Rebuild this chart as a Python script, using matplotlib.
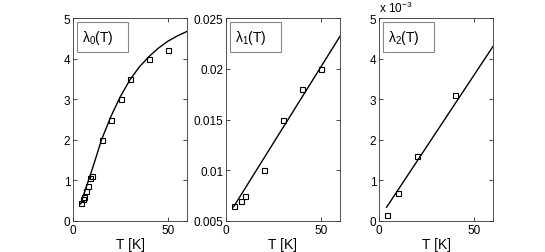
import matplotlib
matplotlib.use("Agg")
import matplotlib.pyplot as plt
from matplotlib.patches import Rectangle

plt.rcParams['font.family'] = ['Liberation Sans', 'DejaVu Sans']
plt.rcParams['mathtext.fontset'] = 'custom'
plt.rcParams['mathtext.rm'] = 'Liberation Sans'
plt.rcParams['mathtext.it'] = 'Liberation Sans'

# Panel 1: lambda_0(T)
T0 = [4, 5, 6, 7, 8, 9, 10, 15, 20, 25, 30, 40, 50]
L0 = [0.45, 0.55, 0.6, 0.75, 0.85, 1.05, 1.1, 2.0, 2.5, 3.0, 3.5, 4.0, 4.2]
T0_fit = [4, 6, 8, 10, 12, 15, 20, 25, 30, 35, 40, 45, 50, 55, 60]
L0_fit = [0.42, 0.7, 0.98, 1.26, 1.55, 2.0, 2.58, 3.07, 3.48, 3.8, 4.05, 4.26, 4.43, 4.56, 4.67]

# Panel 2: lambda_1(T)
T1 = [4, 8, 10, 20, 30, 40, 50]
L1 = [0.0065, 0.007, 0.0075, 0.010, 0.015, 0.018, 0.020]
T1_fit = [4, 60]
L1_fit = [0.0064, 0.0232]

# Panel 3: lambda_2(T) (x 1e-3)
T2 = [4, 10, 20, 40]
L2 = [0.15, 0.7, 1.6, 3.1]
T2_fit = [4, 60]
L2_fit = [0.34, 4.3]

fig = plt.figure(figsize=(5.45, 2.53), dpi=100)

lefts = [73/545, 226/545, 379/545]
w = 114/545
b = 31/253
h = 203/253

panels = [
    (T0, L0, T0_fit, L0_fit, (0, 5), [0, 1, 2, 3, 4, 5], ['0', '1', '2', '3', '4', '5'], r'λ$_0$(T)'),
    (T1, L1, T1_fit, L1_fit, (0.005, 0.025), [0.005, 0.01, 0.015, 0.02, 0.025],
     ['0.005', '0.01', '0.015', '0.02', '0.025'], r'λ$_1$(T)'),
    (T2, L2, T2_fit, L2_fit, (0, 5), [0, 1, 2, 3, 4, 5], ['0', '1', '2', '3', '4', '5'], r'λ$_2$(T)'),
]

spine_col = '#333333'
for i, (tx, ly, tf, lf, ylim, yt, ytl, lab) in enumerate(panels):
    ax = fig.add_axes([lefts[i], b, w, h])
    ax.plot(tf, lf, color='black', lw=1.0)
    ax.plot(tx, ly, linestyle='none', marker='s', ms=3.6, mfc='none',
            mec='black', mew=0.8)
    ax.set_xlim(0, 60)
    ax.set_ylim(*ylim)
    ax.set_xticks([0, 50])
    ax.set_xticklabels(['0', '50'])
    ax.set_yticks(yt)
    ax.set_yticklabels(ytl)
    ax.tick_params(direction='in', top=True, right=True, length=3, width=0.5,
                   labelsize=8.5, pad=2, colors='black')
    for s in ax.spines.values():
        s.set_color(spine_col)
        s.set_linewidth(0.6)
    ax.set_xlabel('T [K]', fontsize=10, labelpad=1)
    ax.add_patch(Rectangle((0.035, 0.833), 0.445, 0.147, transform=ax.transAxes,
                           facecolor='white', edgecolor='#888888', lw=0.8, zorder=5))
    ax.text(0.075, 0.905, lab, transform=ax.transAxes, fontsize=10,
            va='center', ha='left', zorder=6)
    if i == 2:
        ax.text(0.0, 1.015, r'x 10$^{-3}$', transform=ax.transAxes, fontsize=8.5,
                va='bottom', ha='left')

fig.savefig('out.png', dpi=100)
